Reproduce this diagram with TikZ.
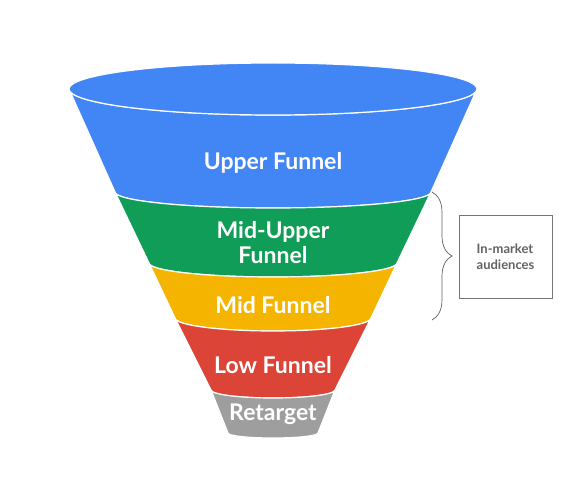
\documentclass[tikz,border=0pt]{standalone}
\usepackage{fontspec}
\setmainfont{Lato}
\usetikzlibrary{decorations.pathreplacing}
\definecolor{funBlue}{HTML}{4285F4}
\definecolor{funGreen}{HTML}{0F9D58}
\definecolor{funYellow}{HTML}{F4B400}
\definecolor{funRed}{HTML}{DB4437}
\definecolor{funGrey}{HTML}{9E9E9E}
\definecolor{noteLine}{HTML}{757575}
\definecolor{noteText}{HTML}{616161}
\tikzset{
  funnelfig/.style={x=1pt, y=1pt},
  band/.style={draw=white, line width=1.2pt, line join=round},
  bandlabel/.style={text=white, font=\bfseries\fontsize{23}{25}\selectfont,
    align=center, inner sep=0pt},
  notebox/.style={draw=noteLine, line width=0.8pt, minimum width=93pt,
    minimum height=83pt, align=left, text=noteText,
    font=\bfseries\fontsize{13}{16}\selectfont},
  % geschweifte Klammer neben den mittleren Stufen
  bracket/.style={draw=noteText, line width=0.7pt,
    decorate, decoration={brace, amplitude=20pt}},
}

\begin{document}
\begin{tikzpicture}[funnelfig]
  \useasboundingbox (0,0) rectangle (578,-486);
  \fill[band, fill=funBlue] (69,-89) arc[start angle=180, end angle=360, x radius=204pt, y radius=26pt]
    -- (431,-192) arc[start angle=0, end angle=-180, x radius=158pt, y radius=16pt] -- cycle;
  \fill[band, fill=funBlue] (273,-89) ellipse[x radius=204pt, y radius=26pt];
  \fill[band, fill=funGreen] (115,-192) arc[start angle=180, end angle=360, x radius=158pt, y radius=16pt]
    -- (397,-263) arc[start angle=0, end angle=-180, x radius=124pt, y radius=14pt] -- cycle;
  \fill[band, fill=funYellow] (149,-263) arc[start angle=180, end angle=360, x radius=124pt, y radius=14pt]
    -- (371,-318) arc[start angle=0, end angle=-180, x radius=98pt, y radius=13pt] -- cycle;
  \fill[band, fill=funRed] (175,-318) arc[start angle=180, end angle=360, x radius=98pt, y radius=13pt]
    -- (335,-390) arc[start angle=0, end angle=-180, x radius=62pt, y radius=8pt] -- cycle;
  \fill[band, fill=funGrey] (211,-390) arc[start angle=180, end angle=360, x radius=62pt, y radius=8pt]
    -- (318,-433) arc[start angle=0, end angle=-180, x radius=45pt, y radius=5pt] -- cycle;
  \node[bandlabel, anchor=base] (UpperLbl) at (273,-170) {Upper Funnel};
  \node[bandlabel] (MidUpperLbl) at (273,-243) {Mid-Upper\\Funnel};
  \node[bandlabel, anchor=base] (MidLbl) at (273,-313) {Mid Funnel};
  \node[bandlabel, anchor=base] (LowLbl) at (273,-373) {Low Funnel};
  \node[bandlabel, anchor=base] (RetargetLbl) at (273,-420) {Retarget};
  \coordinate (BraceTop) at (432,-192);
  \coordinate (BraceBot) at (432,-320);
  \draw[bracket] (BraceTop) -- (BraceBot);
  \node[notebox] (InMarket) at (505.5,-256.5) {In-market\\audiences};
\end{tikzpicture}
\end{document}
